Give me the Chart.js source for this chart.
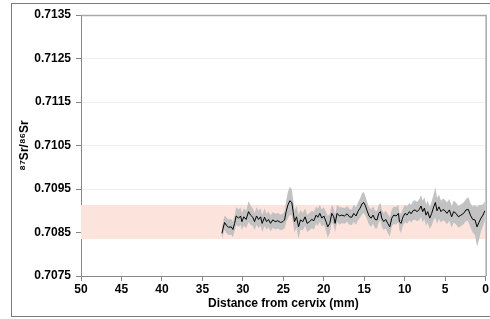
<!DOCTYPE html>
<html>
<head>
<meta charset="utf-8">
<script src="https://cdn.jsdelivr.net/npm/chart.js@4"></script>
<style>
  html, body { margin: 0; padding: 0; background: #fff; }
  #wrap { width: 490px; height: 319px; position: relative; }
</style>
</head>
<body>
<div id="wrap"><canvas id="chart" width="490" height="319"></canvas></div>
<script>
// distance from cervix (mm) and 87Sr/86Sr
const dist = [32.59, 32.26, 32.06, 31.77, 31.44, 31.23, 31.02, 30.83, 30.53, 30.28,
  30.12, 29.88, 29.59, 29.30, 29.05, 28.77, 28.56, 28.31, 28.06, 27.81,
  27.62, 27.32, 27.07, 26.83, 26.58, 26.30, 26.01, 25.68, 25.35, 25.06,
  24.85, 24.65, 24.44, 24.20, 23.95, 23.79, 23.62, 23.37, 23.12, 22.88,
  22.59, 22.31, 22.06, 21.77, 21.48, 21.23, 20.95, 20.74, 20.49, 20.25,
  20.00, 19.72, 19.51, 19.26, 19.01, 18.77, 18.60, 18.36, 18.06, 17.78,
  17.44, 17.12, 16.83, 16.54, 16.30, 16.01, 15.80, 15.52, 15.27, 15.06,
  14.85, 14.65, 14.41, 14.16, 13.91, 13.67, 13.42, 13.21, 13.00, 12.84,
  12.59, 12.35, 12.10, 11.85, 11.60, 11.36, 11.07, 10.78, 10.65, 10.46,
  10.21, 9.96, 9.72, 9.42, 9.22, 8.98, 8.73, 8.48, 8.19, 7.99,
  7.78, 7.57, 7.37, 7.16, 6.91, 6.67, 6.42, 6.21, 6.01, 5.77,
  5.52, 5.27, 5.02, 4.78, 4.48, 4.20, 3.95, 3.67, 3.37, 3.05,
  2.72, 2.43, 2.14, 1.89, 1.60, 1.32, 1.07, 0.83, 0.58, 0.33,
  0.09];

const sr = [0.70848, 0.70873, 0.70867, 0.70862, 0.70863, 0.70857, 0.70871, 0.70888, 0.70883, 0.70888,
  0.70875, 0.70886, 0.70880, 0.70898, 0.70890, 0.70885, 0.70875, 0.70888, 0.70880, 0.70886,
  0.70871, 0.70885, 0.70875, 0.70880, 0.70871, 0.70879, 0.70875, 0.70877, 0.70873, 0.70875,
  0.70879, 0.70898, 0.70913, 0.70923, 0.70919, 0.70898, 0.70875, 0.70886, 0.70863, 0.70879,
  0.70875, 0.70886, 0.70871, 0.70875, 0.70880, 0.70877, 0.70890, 0.70885, 0.70894, 0.70883,
  0.70888, 0.70875, 0.70863, 0.70871, 0.70894, 0.70886, 0.70871, 0.70894, 0.70888, 0.70890,
  0.70888, 0.70893, 0.70886, 0.70885, 0.70894, 0.70888, 0.70898, 0.70906, 0.70916, 0.70919,
  0.70911, 0.70900, 0.70888, 0.70883, 0.70890, 0.70880, 0.70879, 0.70894, 0.70898, 0.70883,
  0.70875, 0.70880, 0.70871, 0.70863, 0.70883, 0.70890, 0.70888, 0.70894, 0.70875, 0.70871,
  0.70886, 0.70894, 0.70890, 0.70898, 0.70893, 0.70900, 0.70902, 0.70898, 0.70903, 0.70911,
  0.70898, 0.70906, 0.70890, 0.70898, 0.70883, 0.70894, 0.70909, 0.70919, 0.70900, 0.70909,
  0.70898, 0.70903, 0.70900, 0.70894, 0.70902, 0.70886, 0.70898, 0.70894, 0.70886, 0.70890,
  0.70894, 0.70902, 0.70903, 0.70890, 0.70880, 0.70879, 0.70863, 0.70873, 0.70883, 0.70890,
  0.70900];

// half-width of the grey uncertainty envelope
const err = [0.00014, 0.00016, 0.00018, 0.00018, 0.00018, 0.00018, 0.00018, 0.0002, 0.0002, 0.0002,
  0.0002, 0.0002, 0.0002, 0.00024, 0.00022, 0.0002, 0.0002, 0.0002, 0.0002, 0.0002,
  0.0002, 0.0002, 0.00018, 0.00018, 0.00018, 0.00018, 0.00018, 0.00018, 0.00018, 0.00018,
  0.0002, 0.00025, 0.0003, 0.00032, 0.0003, 0.00028, 0.00025, 0.00025, 0.00028, 0.00022,
  0.0002, 0.0002, 0.0002, 0.0002, 0.0002, 0.0002, 0.0002, 0.0002, 0.0002, 0.0002,
  0.0002, 0.00022, 0.00025, 0.00022, 0.0002, 0.0002, 0.0002, 0.0002, 0.0002, 0.00018,
  0.00018, 0.00018, 0.00018, 0.00018, 0.0002, 0.0002, 0.0002, 0.00022, 0.00024, 0.00024,
  0.00022, 0.0002, 0.0002, 0.0002, 0.0002, 0.0002, 0.0002, 0.0002, 0.0002, 0.0002,
  0.0002, 0.0002, 0.00022, 0.00022, 0.0002, 0.0002, 0.0002, 0.0002, 0.0002, 0.00022,
  0.0002, 0.0002, 0.0002, 0.0002, 0.0002, 0.00022, 0.00022, 0.00022, 0.00024, 0.00025,
  0.00025, 0.00025, 0.00025, 0.00025, 0.00025, 0.00028, 0.0003, 0.00035, 0.0003, 0.00028,
  0.00025, 0.00025, 0.00025, 0.00025, 0.00025, 0.00025, 0.00025, 0.00025, 0.00025, 0.00025,
  0.00025, 0.00025, 0.00028, 0.00028, 0.0003, 0.00035, 0.00045, 0.0004, 0.0003, 0.00025,
  0.00022];

// local range band
const bandX = [50, 0];
const bandTop = 0.70913;
const bandBottom = 0.70835;

const xTicks = [50, 45, 40, 35, 30, 25, 20, 15, 10, 5, 0];
const yTicks = [0.7075, 0.7085, 0.7095, 0.7105, 0.7115, 0.7125, 0.7135];

const font = { family: 'Arial, "Liberation Sans", sans-serif', size: 12, weight: 'bold' };

const framePlugin = {
  id: 'frames',
  beforeDraw(chart) {
    const ctx = chart.ctx;
    ctx.save();
    ctx.strokeStyle = '#7a7a7a';
    ctx.lineWidth = 1;
    ctx.strokeRect(11.5, 3.5, 500, 313);
    ctx.restore();
  },
  afterDraw(chart) {
    const { ctx, chartArea: a } = chart;
    ctx.save();
    ctx.strokeStyle = '#a8a8a8';
    ctx.lineWidth = 1.5;
    ctx.beginPath();
    ctx.moveTo(a.left, a.top + 0.5);
    ctx.lineTo(a.right + 0.5, a.top + 0.5);
    ctx.lineTo(a.right + 0.5, a.bottom);
    ctx.stroke();
    ctx.restore();
  }
};

new Chart(document.getElementById('chart'), {
  type: 'line',
  data: {
    datasets: [
      {
        label: 'Sr',
        data: dist.map((d, i) => ({ x: d, y: sr[i] })),
        borderColor: '#000',
        borderWidth: 1,
        pointRadius: 0,
        fill: false,
        order: 0
      },
      {
        label: 'upper',
        data: dist.map((d, i) => ({ x: d, y: sr[i] + err[i] })),
        borderWidth: 0,
        borderColor: 'rgba(0,0,0,0)',
        backgroundColor: '#c2c2c2',
        pointRadius: 0,
        fill: '+1',
        order: 1
      },
      {
        label: 'lower',
        data: dist.map((d, i) => ({ x: d, y: sr[i] - err[i] })),
        borderWidth: 0,
        borderColor: 'rgba(0,0,0,0)',
        pointRadius: 0,
        fill: false,
        order: 1
      },
      {
        label: 'bandTop',
        data: bandX.map(x => ({ x: x, y: bandTop })),
        borderWidth: 0,
        borderColor: 'rgba(0,0,0,0)',
        backgroundColor: '#fce3dc',
        pointRadius: 0,
        fill: '+1',
        order: 2
      },
      {
        label: 'bandBottom',
        data: bandX.map(x => ({ x: x, y: bandBottom })),
        borderWidth: 0,
        borderColor: 'rgba(0,0,0,0)',
        pointRadius: 0,
        fill: false,
        order: 2
      }
    ]
  },
  options: {
    responsive: false,
    animation: false,
    layout: { padding: { left: 17, right: 4, top: 15, bottom: 8 } },
    plugins: { legend: { display: false }, tooltip: { enabled: false } },
    elements: { line: { tension: 0 } },
    scales: {
      x: {
        type: 'linear',
        reverse: true,
        min: 0,
        max: 50,
        afterBuildTicks: s => { s.ticks = xTicks.map(v => ({ value: v })); },
        afterFit: s => { s.height = 35; },
        ticks: { font: font, color: '#000', padding: 1, maxRotation: 0 },
        grid: { drawOnChartArea: false, tickColor: '#888', tickLength: 5 },
        border: { color: '#888' },
        title: { display: true, text: 'Distance from cervix (mm)', font: font, color: '#000', padding: 0 }
      },
      y: {
        min: 0.7075,
        max: 0.7135,
        afterBuildTicks: s => { s.ticks = yTicks.map(v => ({ value: v })); },
        afterFit: s => { s.width = 64; },
        ticks: { font: font, color: '#000', padding: 5, callback: v => v.toFixed(4) },
        grid: { color: '#efefef', tickColor: '#888', tickLength: 5 },
        border: { color: '#888' },
        title: { display: true, text: '⁸⁷Sr/⁸⁶Sr', font: font, color: '#000', padding: 0 }
      }
    }
  },
  plugins: [framePlugin]
});
</script>
</body>
</html>
